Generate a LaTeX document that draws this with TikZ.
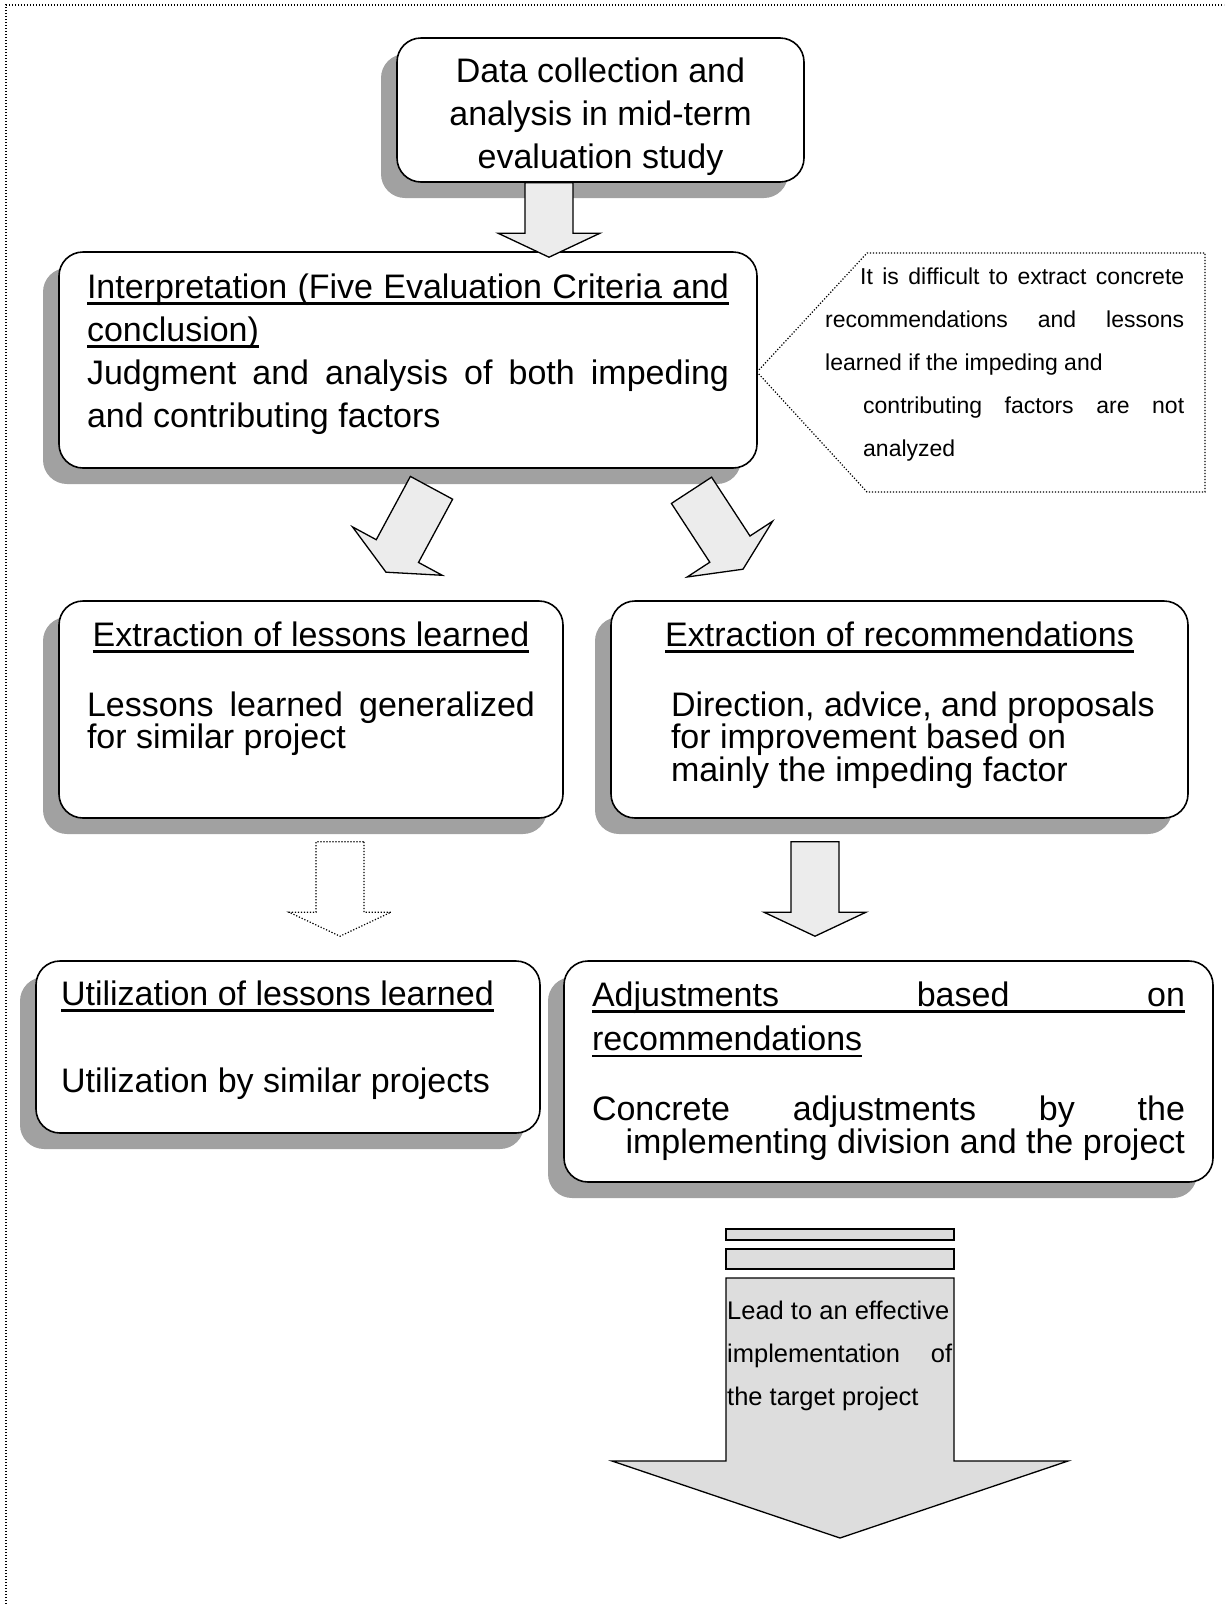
\documentclass[tikz,border=0pt]{standalone}
\usepackage{fontspec}
\setmainfont{Liberation Sans}
\usetikzlibrary{calc,shadows}

\newsavebox\ulnbox
\newcommand{\uln}[1]{\sbox\ulnbox{#1}\leavevmode\rlap{\rule[-6.5pt]{\wd\ulnbox}{2.5pt}}\usebox\ulnbox}
\newcommand{\natspace}{\spaceskip=0pt\relax}
\newcommand{\fullline}[1]{\makebox[\linewidth][s]{\natspace #1}}
% block arrow from #2 to the tip #3
\newcommand{\blockarrow}[3][]{%
  \coordinate (h) at ($(#3)!24pt!(#2)$);
  \draw[blockarrow,#1] ($(#2)!24pt!90:(#3)$) -- ($(h)!24pt!90:(#3)$) -- ($(h)!51pt!90:(#3)$) -- (#3)
        -- ($(h)!51pt!-90:(#3)$) -- ($(h)!24pt!-90:(#3)$) -- ($(#2)!24pt!-90:(#3)$) -- cycle;}

\tikzset{
  card/.style={draw, line width=1.6pt, rounded corners=24pt, fill=white, inner xsep=28pt, inner ysep=0pt,
               align=flush left, text height=45pt, font=\fontsize{34}{31}\selectfont,
               execute at begin node=\natspace,
               drop shadow={shadow xshift=-16pt, shadow yshift=-16pt, fill=black!37, opacity=1}},
  dotline/.style={line width=1.2pt, dash pattern=on 1.2pt off 1.8pt},
  blockarrow/.style={line width=1.3pt, fill=gray!15, line join=miter},
  bigarrow/.style={line width=1.3pt, fill=gray!27},
  smalltext/.style={anchor=north west, inner sep=0pt, align=flush left, execute at begin node=\natspace},
}

\begin{document}
\begin{tikzpicture}[x=1pt, y=-1pt]
\useasboundingbox (0,0) rectangle (1224,1604);

\draw[dotline] (6,1604) -- (6,5) -- (1224,5);

\node[card, font=\fontsize{34}{43}\selectfont, align=flush center, text width=351pt, text height=44pt, text depth=100pt] (data) at (600.5,110)
  {Data collection and\\analysis in mid-term\\evaluation study};
\node[card, font=\fontsize{34}{43}\selectfont, text width=642pt, text height=46pt, text depth=170pt] (interp) at (408,360)
  {\uln{\fullline{Interpretation (Five Evaluation Criteria and}}\\
   \uln{conclusion)}\\
   \fullline{Judgment and analysis of both impeding}\\
   and contributing factors};
\node[card, text width=448pt, text depth=172pt] (lessons) at (311,709.5)
  {\makebox[\linewidth]{\uln{Extraction of lessons learned}}\\[38pt]
   \fullline{Lessons learned generalized}\\
   for similar project};
\node[card, text width=521pt, text depth=172pt] (recs) at (899.5,709.5)
  {\makebox[\linewidth]{\uln{Extraction of recommendations}}\\[38pt]
   \hspace*{32pt}Direction, advice, and proposals\\
   \hspace*{32pt}for improvement based on\\
   \hspace*{32pt}mainly the impeding factor};
\node[card, inner xsep=25pt, text width=454pt, text height=44pt, text depth=128pt] (util) at (288,1047)
  {\uln{Utilization of lessons learned}\\[55pt]
   Utilization by similar projects};
\node[card, text width=593pt, text depth=176pt] (adjust) at (888.5,1071.5)
  {\uln{\fullline{Adjustments based on}}\\[12pt]
   \uln{recommendations}\\[38pt]
   \fullline{Concrete adjustments by the}\\
   \makebox[\linewidth][r]{implementing division and the project}};

% callout
\coordinate (c1) at (757,372);
\coordinate (c2) at (867,253);
\coordinate (c3) at (1205,253);
\coordinate (c4) at (1205,492);
\coordinate (c5) at (867,492);
\draw[dotline] (c1) -- (c2) -- (c3) -- (c4) -- (c5) -- cycle;
\node[smalltext, font=\fontsize{23}{43}\selectfont, text width=359pt, text height=31pt] (note) at (825,253)
  {\fullline{\hspace{35pt}It is difficult to extract concrete}\\
   \fullline{recommendations and lessons}\\
   learned if the impeding and\\
   \fullline{\hspace{38pt}contributing factors are not}\\
   \hspace*{38pt}analyzed};

% arrows between the boxes
\coordinate (a1s) at ([xshift=-51.5pt]data.south);
\coordinate (a1t) at ($(a1s |- interp.north)+(0,6)$);
\coordinate (a2s) at ($(interp.south)+(23.5,19)$);
\coordinate (a2t) at ($(lessons.north)+(75,-28)$);
\coordinate (a3s) at ($(interp.south)+(283.5,21.5)$);
\coordinate (a3t) at ($(recs.north)+(-156.5,-31)$);
\coordinate (a4s) at ($(lessons.south)+(29,23)$);
\coordinate (a4t) at ($(util.north)+(52,-24)$);
\coordinate (a5s) at ($(recs.south)+(-84.5,23)$);
\coordinate (a5t) at ($(adjust.north)+(-73.5,-24)$);

\blockarrow{a1s}{a1t}
\blockarrow{a2s}{a2t}
\blockarrow{a3s}{a3t}
\blockarrow[dotline, fill=white]{a4s}{a4t}
\blockarrow{a5s}{a5t}

% final arrow
\draw[bigarrow] (726,1229) rectangle (954,1240);
\draw[bigarrow] (726,1249) rectangle (954,1269);
\draw[bigarrow] (726,1278) -- (726,1461) -- (612,1461) -- (840,1538) -- (1068,1461) -- (954,1461) -- (954,1278) -- cycle;
\node[smalltext, font=\fontsize{25.5}{43}\selectfont, text width=225pt, text height=41pt] (lead) at (727,1278)
  {Lead to an effective\\
   \fullline{implementation of}\\
   the target project};

\end{tikzpicture}
\end{document}
